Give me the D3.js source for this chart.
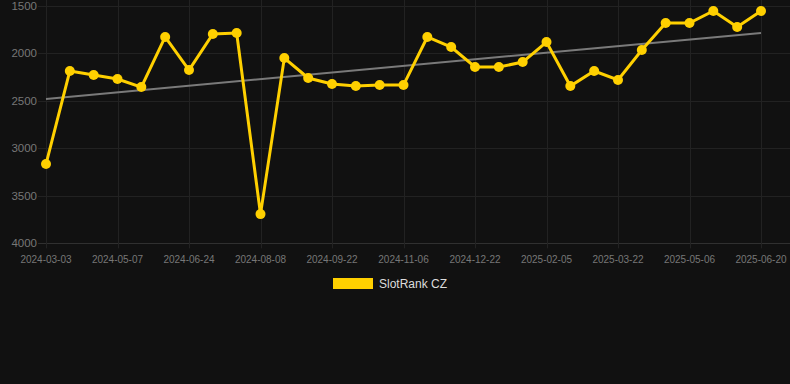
<!DOCTYPE html>
<html>
<head>
<meta charset="utf-8">
<script src="https://cdn.jsdelivr.net/npm/d3@7"></script>
<style>
  body { margin: 0; background: #111111; }
  svg { display: block; font-family: "Liberation Sans", Arial, sans-serif; }
</style>
</head>
<body>
<script>
// categories (one point per date), only every 3rd one gets a label
var dates = [
  "2024-03-03", "2024-03-25", "2024-04-16", "2024-05-07", "2024-05-23", "2024-06-08",
  "2024-06-24", "2024-07-09", "2024-07-24", "2024-08-08", "2024-08-23", "2024-09-07",
  "2024-09-22", "2024-10-07", "2024-10-22", "2024-11-06", "2024-11-21", "2024-12-07",
  "2024-12-22", "2025-01-06", "2025-01-21", "2025-02-05", "2025-02-20", "2025-03-07",
  "2025-03-22", "2025-04-06", "2025-04-21", "2025-05-06", "2025-05-21", "2025-06-05",
  "2025-06-20"
];
// rank values
var ranks = [
  3166, 2187, 2229, 2272, 2356, 1829,
  2177, 1798, 1787, 3693, 2051, 2261,
  2324, 2345, 2335, 2335, 1829, 1935,
  2145, 2145, 2093, 1882, 2345, 2187,
  2282, 1966, 1682, 1682, 1556, 1724,
  1556
];
var yTicks = [1500, 2000, 2500, 3000, 3500, 4000];
var seriesName = "SlotRank CZ";

var width = 790, height = 384;
var plotLeft = 46, plotRight = 761, plotTop = 5.7, plotBottom = 243.3;

var svg = d3.select("body").append("svg")
  .attr("width", width)
  .attr("height", height);

svg.append("rect").attr("width", width).attr("height", height).attr("fill", "#111111");

var x = d3.scalePoint().domain(dates).range([plotLeft, plotRight]);
var y = d3.scaleLinear().domain([1500, 4000]).range([plotTop, plotBottom]);

var labelled = dates.filter(function(d, i) { return i % 3 === 0; });

// grid
svg.append("g").selectAll("line")
  .data(yTicks)
  .enter().append("line")
  .attr("x1", 38).attr("x2", width)
  .attr("y1", function(d) { return Math.round(y(d)) + 0.5; })
  .attr("y2", function(d) { return Math.round(y(d)) + 0.5; })
  .attr("stroke", function(d) { return d === 4000 ? "#303030" : "#222222"; })
  .attr("stroke-width", 1);

svg.append("g").selectAll("line")
  .data(labelled)
  .enter().append("line")
  .attr("x1", function(d) { return Math.round(x(d)) + 0.5; })
  .attr("x2", function(d) { return Math.round(x(d)) + 0.5; })
  .attr("y1", 0).attr("y2", plotBottom + 5)
  .attr("stroke", "#222222")
  .attr("stroke-width", 1);

// y axis labels
svg.append("g").selectAll("text")
  .data(yTicks)
  .enter().append("text")
  .attr("x", 37)
  .attr("y", function(d) { return y(d); })
  .attr("dy", "0.35em")
  .attr("text-anchor", "end")
  .attr("fill", "#777777")
  .style("font-size", "11.5px")
  .text(function(d) { return d; });

// x axis labels
svg.append("g").selectAll("text")
  .data(labelled)
  .enter().append("text")
  .attr("x", function(d) { return x(d); })
  .attr("y", 263)
  .attr("text-anchor", "middle")
  .attr("fill", "#777777")
  .style("font-size", "10px")
  .text(function(d) { return d; });

// trend line (least squares on index)
var n = ranks.length;
var mx = d3.mean(ranks, function(d, i) { return i; });
var my = d3.mean(ranks);
var sxy = d3.sum(ranks, function(d, i) { return (i - mx) * (d - my); });
var sxx = d3.sum(ranks, function(d, i) { return (i - mx) * (i - mx); });
var slope = sxy / sxx;
var icpt = my - slope * mx;

svg.append("line")
  .attr("x1", x(dates[0]))
  .attr("x2", x(dates[n - 1]))
  .attr("y1", y(icpt))
  .attr("y2", y(icpt + slope * (n - 1)))
  .attr("stroke", "#7a7a7a")
  .attr("stroke-width", 2);

// series
var line = d3.line()
  .x(function(d, i) { return x(dates[i]); })
  .y(function(d) { return y(d); });

svg.append("path")
  .datum(ranks)
  .attr("d", line)
  .attr("fill", "none")
  .attr("stroke", "#FFD000")
  .attr("stroke-width", 3)
  .attr("stroke-linejoin", "miter");

svg.append("g").selectAll("circle")
  .data(ranks)
  .enter().append("circle")
  .attr("cx", function(d, i) { return x(dates[i]); })
  .attr("cy", function(d) { return y(d); })
  .attr("r", 5)
  .attr("fill", "#FFD000");

// legend
var legend = svg.append("g").attr("transform", "translate(333,278)");
legend.append("rect")
  .attr("width", 40).attr("height", 11)
  .attr("fill", "#FFD000");
legend.append("text")
  .attr("x", 46).attr("y", 6)
  .attr("dy", "0.35em")
  .attr("fill", "#dddddd")
  .style("font-size", "12px")
  .text(seriesName);
</script>
</body>
</html>
